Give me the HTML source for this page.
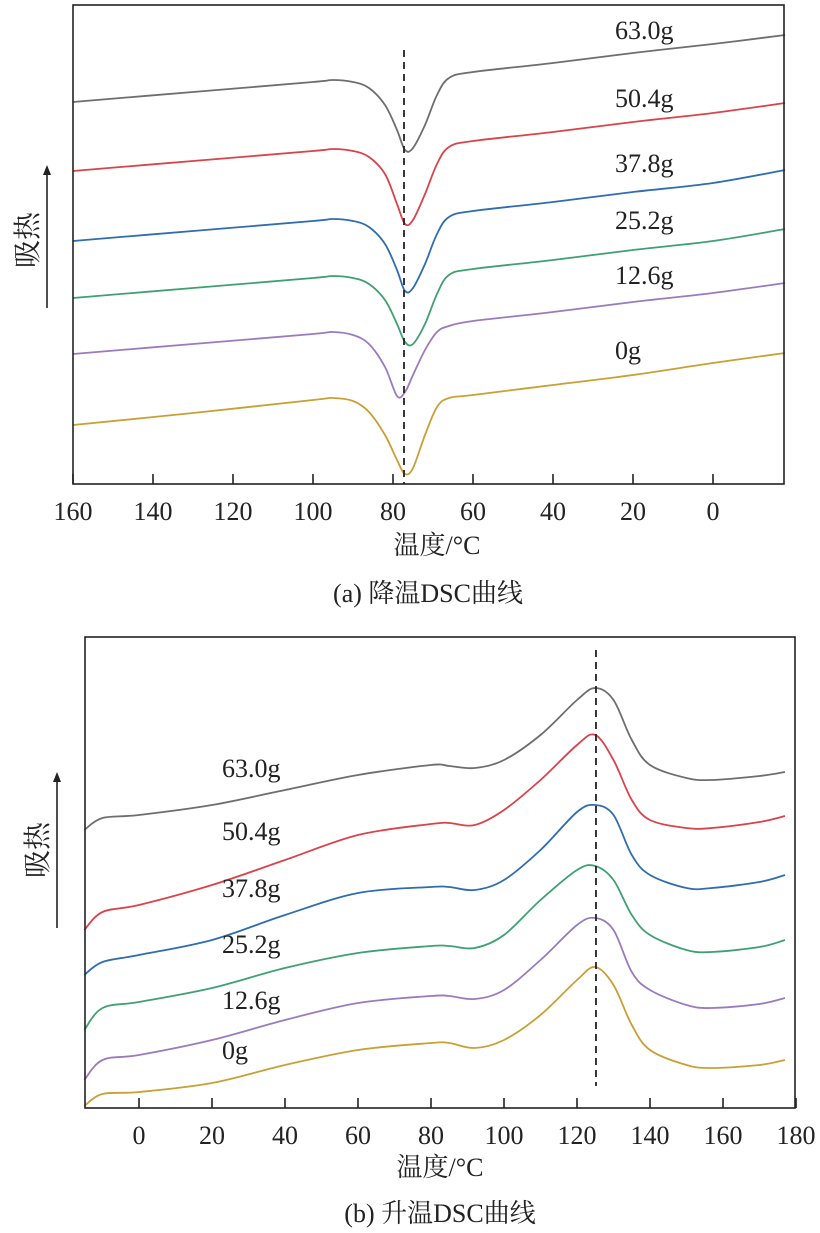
<!DOCTYPE html>
<html><head><meta charset="utf-8"><style>
html,body{margin:0;padding:0;background:#fff;}
svg{display:block;font-family:"Liberation Serif","Noto Serif CJK SC",serif;}
</style></head><body>
<svg id="svg" width="820" height="1233" viewBox="0 0 820 1233"></svg>
<script>
// ---- Chart (a): cooling DSC ----
const topTemps = [160,130,100,95,90,86,82,79,77,75,72,69,66,60,40,20,0,-18];
const topLabels = ['63.0g','50.4g','37.8g','25.2g','12.6g','0g'];
const topGray   = [39.8,40.8,41.8,42.0,41.8,41.2,39.5,37.0,35.0,35.2,37.5,40.5,42.2,42.8,43.7,44.7,45.6,46.5];
const topRed    = [32.9,33.9,34.9,35.1,34.9,34.3,32.6,29.6,27.6,28.0,30.6,33.6,35.3,35.9,36.8,37.8,38.7,39.7];
const topBlue   = [25.9,26.9,27.9,28.1,27.9,27.3,25.6,23.0,20.9,21.2,23.6,26.6,28.3,28.9,29.8,30.8,31.7,33.0];
const topGreen  = [20.2,21.2,22.2,22.4,22.2,21.6,20.0,17.6,15.8,15.6,17.6,20.6,22.5,23.1,24.0,25.0,25.9,27.1];
const topPurple = [14.6,15.6,16.6,16.8,16.5,15.6,13.3,10.4,10.8,12.5,15.0,16.8,17.4,17.9,18.8,19.8,20.7,21.7];
const topOrange = [7.5,8.7,10.0,10.2,9.9,8.8,6.5,4.0,2.6,3.2,6.5,9.3,10.2,10.5,11.5,12.5,13.7,14.7];
const topTicks  = [160,140,120,100,80,60,40,20,0];
const topPeakT  = 77.25;
// ---- Chart (b): heating DSC ----
const botTemps = [-15,-10,0,20,40,60,80,85,92,100,110,120,125,130,135,140,150,157,170,177];
const botLabels = ['63.0g','50.4g','37.8g','25.2g','12.6g','0g'];
const botGray   = [28.0,29.2,29.5,30.5,32.0,33.5,34.5,34.4,34.2,35.0,37.5,41.0,42.2,41.0,37.0,34.5,33.2,33.0,33.4,33.8];
const botRed    = [18.0,19.8,20.5,22.5,25.0,27.5,28.6,28.7,28.5,30.0,33.0,36.5,37.5,35.0,31.0,29.0,28.2,28.2,28.8,29.4];
const botBlue   = [13.5,14.8,15.5,17.0,19.5,21.7,22.3,22.3,22.0,23.0,26.0,29.8,30.5,29.5,25.5,23.5,22.2,22.2,22.8,23.5];
const botGreen  = [8.0,10.2,10.8,12.2,14.2,15.7,16.4,16.4,16.2,17.5,21.0,24.0,24.4,23.0,19.5,17.5,16.0,15.8,16.3,17.0];
const botPurple = [3.0,5.0,5.5,7.0,9.0,10.7,11.4,11.4,11.1,12.0,15.0,18.5,19.2,18.0,13.8,12.0,10.5,10.2,10.6,11.2];
const botOrange = [0.4,1.6,1.8,2.7,4.5,6.0,6.7,6.7,6.2,7.0,9.5,13.0,14.3,12.5,8.5,6.0,4.5,4.2,4.5,5.0];
const botTicks  = [0,20,40,60,80,100,120,140,160,180];
const botPeakT  = 125.2;

const colors = ['#6e6e6e','#d9434b','#2f6db0','#3fa171','#9b7bbf','#c9a035'];
const NS='http://www.w3.org/2000/svg';
const svg=document.getElementById('svg');
function mk(tag,attrs,parent){const e=document.createElementNS(NS,tag);for(const k in attrs)e.setAttribute(k,attrs[k]);(parent||svg).appendChild(e);return e;}
function smooth(pts){let d='M'+pts[0][0].toFixed(1)+','+pts[0][1].toFixed(1);
 for(let i=0;i<pts.length-1;i++){const p0=pts[Math.max(0,i-1)],p1=pts[i],p2=pts[i+1],p3=pts[Math.min(pts.length-1,i+2)];
  const c1=[p1[0]+(p2[0]-p0[0])/6,p1[1]+(p2[1]-p0[1])/6],c2=[p2[0]-(p3[0]-p1[0])/6,p2[1]-(p3[1]-p1[1])/6];
  d+=' C'+c1[0].toFixed(1)+','+c1[1].toFixed(1)+' '+c2[0].toFixed(1)+','+c2[1].toFixed(1)+' '+p2[0].toFixed(1)+','+p2[1].toFixed(1);}
 return d;}

function chart(o){
 const g=mk('g',{});
 
 
 const series=o.series;
 series.forEach((vals,i)=>{
  const pts=o.temps.map((t,j)=>[o.xs(t),o.ys(vals[j])]);
  const p=mk('path',{d:smooth(pts),fill:'none',stroke:colors[i],'stroke-width':1.8},g);
  
  
  const t=mk('text',{x:o.labelX,y:o.labelY[i],'font-size':26,fill:'#222'},g);
  t.textContent=o.labels[i];
  
  
 });
 const dl=mk('line',{x1:o.xs(o.peak),x2:o.xs(o.peak),y1:o.dashY[0],y2:o.dashY[1],stroke:'#222','stroke-width':1.8,'stroke-dasharray':'7,5'},g);
 
 
 const fr=mk('rect',{x:o.box[0],y:o.box[1],width:o.box[2]-o.box[0],height:o.box[3]-o.box[1],fill:'none',stroke:'#222','stroke-width':1.6},g);
 
 
 o.ticks.forEach(v=>{
  const x=o.xs(v);
  const tk=mk('line',{x1:x,x2:x,y1:o.box[3],y2:o.box[3]-10,stroke:'#222','stroke-width':1.6},g);
  
  
  const tl=mk('text',{x:x,y:o.box[3]+36,'font-size':26,'text-anchor':'middle',fill:'#222'},g);
  tl.textContent=v;
  
  
 });
 const xt=mk('text',{x:o.xtitle[0],y:o.xtitle[1],'font-size':26,'text-anchor':'middle',fill:'#222'},g);
 xt.textContent='温度/°C';
 
 
 const cp=mk('text',{x:o.cap[0],y:o.cap[1],'font-size':26,'text-anchor':'middle',fill:'#222'},g);
 cp.textContent=o.caption;
 
 
 const yt=mk('text',{x:0,y:0,'font-size':28,'text-anchor':'middle',fill:'#222',transform:'translate('+(o.arrowX-10)+','+o.ylabY+') rotate(-90)'},g);
 yt.textContent='吸热';
 
 
 const ar=mk('line',{x1:o.arrowX,x2:o.arrowX,y1:o.arrow[1],y2:o.arrow[0]+8,stroke:'#222','stroke-width':1.6},g);
 
 
 const ah=mk('path',{d:'M'+(o.arrowX-4)+','+(o.arrow[0]+10)+' L'+o.arrowX+','+o.arrow[0]+' L'+(o.arrowX+4)+','+(o.arrow[0]+10)+'Z',fill:'#222'},g);
 
 
}

chart({name:'cooling-dsc-chart',temps:topTemps,series:[topGray,topRed,topBlue,topGreen,topPurple,topOrange],labels:topLabels,
 xs:t=>73+(160-t)*4, ys:v=>500-v*10, labelX:615, labelY:[39,107,172,229,284,359],
 peak:topPeakT, dashY:[50,484], box:[73,5,784,484], ticks:topTicks, xtitle:[437,554], cap:[428,602],
 caption:'(a) 降温DSC曲线', arrowX:47, arrow:[165,308], ylabY:240});
chart({name:'heating-dsc-chart',temps:botTemps,series:[botGray,botRed,botBlue,botGreen,botPurple,botOrange],labels:botLabels,
 xs:t=>139+t*3.65, ys:v=>1110-v*10, labelX:222, labelY:[777,840,897,953,1009,1059],
 peak:botPeakT, dashY:[650,1086], box:[85,637,795,1108], ticks:botTicks, xtitle:[440,1176], cap:[440,1222],
 caption:'(b) 升温DSC曲线', arrowX:57, arrow:[772,928], ylabY:850});
</script>
</body></html>
